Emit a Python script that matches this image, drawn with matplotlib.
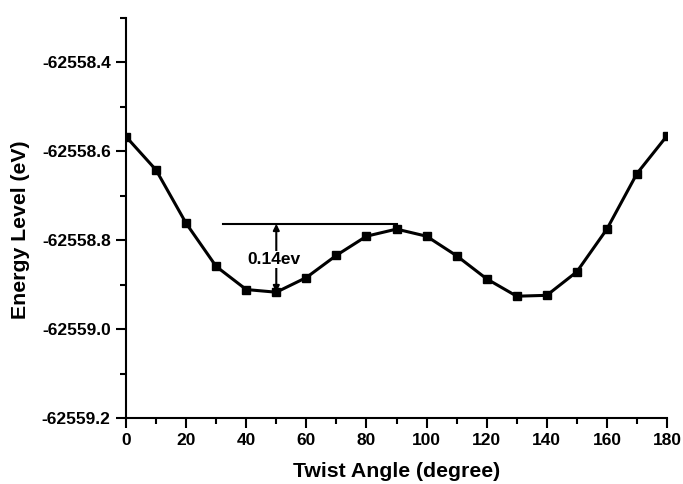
import matplotlib
matplotlib.use('Agg')
import matplotlib.pyplot as plt
from matplotlib.ticker import MultipleLocator, FormatStrFormatter

# Data
angle = [0, 10, 20, 30, 40, 50, 60, 70, 80, 90,
         100, 110, 120, 130, 140, 150, 160, 170, 180]
energy = [-62558.567, -62558.642, -62558.762, -62558.859, -62558.911,
          -62558.917, -62558.884, -62558.834, -62558.791, -62558.775,
          -62558.791, -62558.835, -62558.887, -62558.926, -62558.924,
          -62558.871, -62558.775, -62558.650, -62558.565]

ref_level = -62558.763   # horizontal reference line level
gap_x = 50               # where the 0.14 eV gap is marked
gap_bottom = -62558.917

plt.rcParams['font.family'] = ['Liberation Sans', 'DejaVu Sans']
plt.rcParams['font.weight'] = 'bold'

fig = plt.figure(figsize=(6.83, 4.84), dpi=100)
ax = fig.add_axes([0.1845, 0.1364, 0.7921, 0.8264])

ax.plot(angle, energy, color='black', lw=2.2, marker='s', markersize=6,
        markerfacecolor='black', markeredgecolor='black', zorder=3)

# reference line and gap arrow
ax.plot([32.3, 90], [ref_level, ref_level], color='black', lw=1.5)
ax.annotate('', xy=(gap_x, gap_bottom), xytext=(gap_x, ref_level),
            arrowprops=dict(arrowstyle='<|-|>', color='black', lw=1.5,
                            mutation_scale=9, shrinkA=0, shrinkB=0))
ax.text(40.5, -62558.843, '0.14ev', fontsize=12.5, fontweight='bold',
        ha='left', va='center',
        bbox=dict(facecolor='white', edgecolor='none', pad=0.5))

ax.set_xlim(0, 180)
ax.set_ylim(-62559.2, -62558.3)

ax.xaxis.set_major_locator(MultipleLocator(20))
ax.xaxis.set_minor_locator(MultipleLocator(10))
ax.yaxis.set_major_locator(MultipleLocator(0.2))
ax.yaxis.set_minor_locator(MultipleLocator(0.1))
ax.yaxis.set_major_formatter(FormatStrFormatter('%.1f'))

ax.spines['top'].set_visible(False)
ax.spines['right'].set_visible(False)
ax.spines['left'].set_linewidth(1.5)
ax.spines['bottom'].set_linewidth(1.5)

ax.tick_params(which='major', direction='out', length=7, width=1.5,
               labelsize=12.5, pad=4)
ax.tick_params(which='minor', direction='out', length=4, width=1.5)
for lbl in ax.get_xticklabels() + ax.get_yticklabels():
    lbl.set_fontweight('bold')

ax.set_xlabel('Twist Angle (degree)', fontsize=15.3, fontweight='bold', labelpad=10)
ax.set_ylabel('Energy Level (eV)', fontsize=15.3, fontweight='bold')
ax.yaxis.set_label_coords(-0.177, 0.47)

fig.savefig('out.png', dpi=100)
